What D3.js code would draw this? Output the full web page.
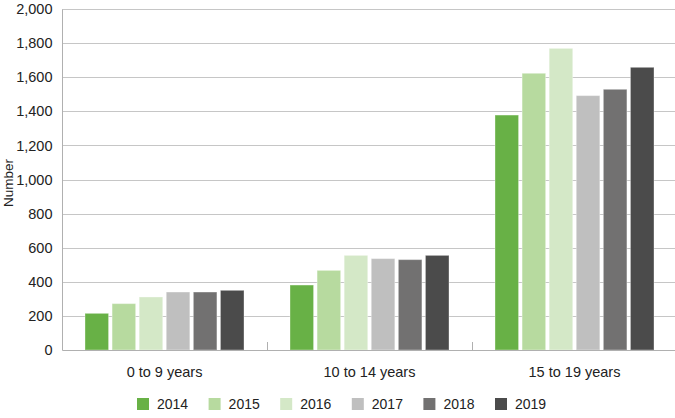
<!DOCTYPE html>
<html><head><meta charset="utf-8">
<script src="https://cdn.jsdelivr.net/npm/d3@7"></script>
<style>body{margin:0;background:#fff;} text{font-family:"Liberation Sans",Arial,sans-serif;}</style>
</head><body>
<svg id="c" width="675" height="418"></svg>
<script>
const categories = ["0 to 9 years", "10 to 14 years", "15 to 19 years"];
const years = ["2014", "2015", "2016", "2017", "2018", "2019"];
const v2014 = [215, 381, 1378];
const v2015 = [272, 467, 1623];
const v2016 = [311, 555, 1769];
const v2017 = [340, 536, 1492];
const v2018 = [340, 530, 1529];
const v2019 = [350, 555, 1658];
const yTicks = [0, 200, 400, 600, 800, 1000, 1200, 1400, 1600, 1800, 2000];
const colors = ["#68b146", "#b7da9f", "#d4e8c7", "#bfbfbf", "#727171", "#4b4b4b"];
const series = [v2014, v2015, v2016, v2017, v2018, v2019];

(function () {
const svg = d3.select("#c");
const mLeft = 62, mRight = 677, mTop = 9, mBottom = 350;
const y = d3.scaleLinear().domain([0, 2000]).range([mBottom, mTop]);
const x0 = d3.scaleBand().domain(categories).range([mLeft, mRight]).paddingInner(0).paddingOuter(0);
const x1 = d3.scaleBand().domain(years).range([23, x0.bandwidth() - 23]).paddingInner(0.13).paddingOuter(0);

// gridlines
svg.append("g").selectAll("line").data(yTicks.filter(d => d > 0)).join("line")
  .attr("x1", mLeft).attr("x2", 675).attr("y1", d => Math.round(y(d)) + 0.5).attr("y2", d => Math.round(y(d)) + 0.5)
  .attr("stroke", "#c6c6c6").attr("stroke-width", 1);

// y axis labels
const ya = svg.append("g").attr("transform", `translate(${mLeft},0)`)
  .call(d3.axisLeft(y).tickValues(yTicks).tickSize(0).tickPadding(9.5).tickFormat(d3.format(",")));
ya.select(".domain").attr("stroke", "#b0b0b0");
ya.selectAll("text").attr("font-size", 14.5).attr("fill", "#222").style("font-family", "Liberation Sans, Arial, sans-serif");

// bars
categories.forEach((c, ci) => {
  const g = svg.append("g").attr("transform", `translate(${x0(c)},0)`);
  g.selectAll("rect").data(years).join("rect")
    .attr("x", d => x1(d)).attr("width", x1.bandwidth())
    .attr("y", (d, i) => y(series[i][ci])).attr("height", (d, i) => mBottom - y(series[i][ci]))
    .attr("fill", (d, i) => colors[i])
    .attr("stroke", "rgba(255,255,255,0.35)").attr("stroke-width", 1);
});

// x axis
const xa = svg.append("g").attr("transform", `translate(0,${mBottom})`)
  .call(d3.axisBottom(x0).tickSize(0).tickPadding(16.5));
xa.select(".domain").attr("stroke", "#b0b0b0");
xa.selectAll("text").attr("font-size", 14.5).attr("fill", "#222").style("font-family", "Liberation Sans, Arial, sans-serif");
// boundary ticks (pointing up)
svg.append("g").selectAll("line").data(categories.slice(1)).join("line")
  .attr("x1", d => Math.round(x0(d)) + 0.5).attr("x2", d => Math.round(x0(d)) + 0.5)
  .attr("y1", mBottom).attr("y2", mBottom - 8).attr("stroke", "#b0b0b0");

// y title
svg.append("text").attr("transform", "translate(13,183) rotate(-90)").attr("text-anchor", "middle")
  .attr("font-size", 13.5).attr("fill", "#222").text("Number");

// legend
const lg = svg.append("g").attr("transform", "translate(137,398)");
const items = lg.selectAll("g").data(years).join("g").attr("transform", (d, i) => `translate(${i * 71.6},0)`);
items.append("rect").attr("width", 12).attr("height", 12).attr("fill", (d, i) => colors[i]);
items.append("text").attr("x", 20).attr("y", 11).attr("font-size", 14).attr("fill", "#222").text(d => d);
})();
</script>
</body></html>
